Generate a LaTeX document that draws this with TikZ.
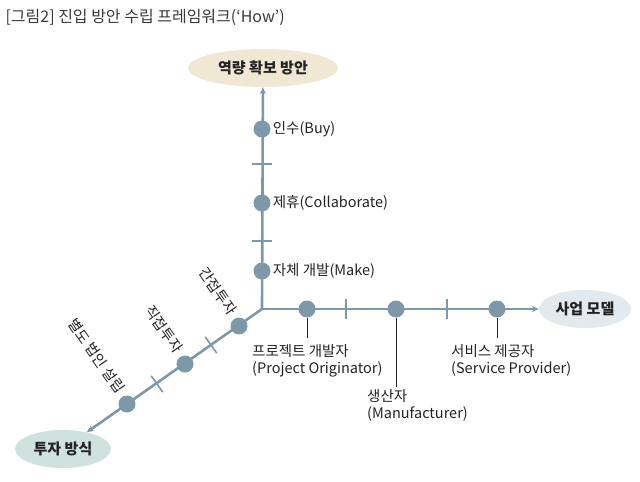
\documentclass[tikz,border=0pt]{standalone}
\usepackage{fontspec}
\setmainfont{Noto Sans CJK KR}
\usetikzlibrary{positioning,calc,arrows.meta,shapes.geometric}

\definecolor{axisblue}{RGB}{125,152,168}
\definecolor{capfill}{RGB}{240,232,212}
\definecolor{bizfill}{RGB}{226,234,240}
\definecolor{invfill}{RGB}{208,226,222}
\definecolor{txt}{RGB}{35,35,35}

\tikzset{
  axis/.style={draw=axisblue, line width=2.6pt},
  tick/.style={draw=axisblue, line width=1.6pt},
  lead/.style={draw=txt, line width=0.9pt},
  dot/.style={circle, fill=axisblue, minimum size=17pt, inner sep=0pt},
  goal/.style={ellipse, minimum width=#1, minimum height=38pt, inner sep=0pt,
    font=\fontsize{15}{18}\selectfont\bfseries, text=txt},
  lbl/.style={font=\fontsize{14.5}{17}\selectfont, text=txt, inner sep=1pt},
}

\begin{document}
\begin{tikzpicture}[x=1pt, y=-1pt, >={Stealth[length=7pt,width=6pt]}]
\useasboundingbox (0,0) rectangle (640,482);

\node[anchor=west, font=\fontsize{16}{19}\selectfont, text=txt!90!white] (title) at (2,17)
  {[그림2] 진입 방안 수립 프레임워크(‘How’)};

% ends of the three axes
\node[goal=150pt, fill=capfill] (cap) at (263,68) {역량 확보 방안};
\node[goal=92pt, fill=bizfill] (biz) at (585,309) {사업 모델};
\node[goal=96pt, fill=invfill] (inv) at (63,449) {투자 방식};

\coordinate (O) at (262,309);
\draw[axis,->] (O) -- (cap);
\draw[axis,->] (O) -- (biz);
\draw[axis,->] (O) -- (inv);

% capability axis
\node[dot] (buy) at (262,129) {};
\node[dot] (collab) at (262,203) {};
\node[dot] (make) at (262,271) {};
\node[lbl, right=1pt of buy] {인수(Buy)};
\node[lbl, right=1pt of collab] {제휴(Collaborate)};
\node[lbl, right=1pt of make] {자체 개발(Make)};
\coordinate (t1) at (262,164);
\coordinate (t2) at (262,241);
\foreach \t in {t1,t2}
  \draw[tick] ($(\t)+(-10,0)$) -- ($(\t)+(10,0)$);

% business model axis
\node[dot] (proj) at (307,309) {};
\node[dot] (manu) at (396,309) {};
\node[dot] (serv) at (497,309) {};
\coordinate (projend) at (307,338);
\coordinate (manuend) at (396,387);
\coordinate (servend) at (497,338);
\draw[lead] (proj) -- (projend);
\draw[lead] (manu) -- (manuend);
\draw[lead] (serv) -- (servend);
\node[lbl, anchor=north west, align=left] (projlbl) at (251,343) {프로젝트 개발자\\(Project Originator)};
\node[lbl, anchor=north west, align=left] (manulbl) at (366,388) {생산자\\(Manufacturer)};
\node[lbl, anchor=north west, align=left] (servlbl) at (450,343) {서비스 제공자\\(Service Provider)};
\coordinate (t3) at (346,309);
\coordinate (t4) at (447,309);
\foreach \t in {t3,t4}
  \draw[tick] ($(\t)+(0,-10)$) -- ($(\t)+(0,10)$);

% investment axis
\node[dot] (indir) at (239,326) {};
\node[dot] (dir) at (185,364) {};
\node[dot] (corp) at (127,404) {};
\node[lbl, rotate=-55, anchor=east] at ($(indir)+(-5,-12)$) {간접투자};
\node[lbl, rotate=-55, anchor=east] at ($(dir)+(-5,-12)$) {직접투자};
\node[lbl, rotate=-55, anchor=east] at ($(corp)+(-5,-12)$) {별도 법인 설립};
\coordinate (t5) at (211,345);
\coordinate (t6) at (157,384);
\foreach \t in {t5,t6}
  \draw[tick] ($(\t)+(-5.8,-8.2)$) -- ($(\t)+(5.8,8.2)$);
\end{tikzpicture}
\end{document}
